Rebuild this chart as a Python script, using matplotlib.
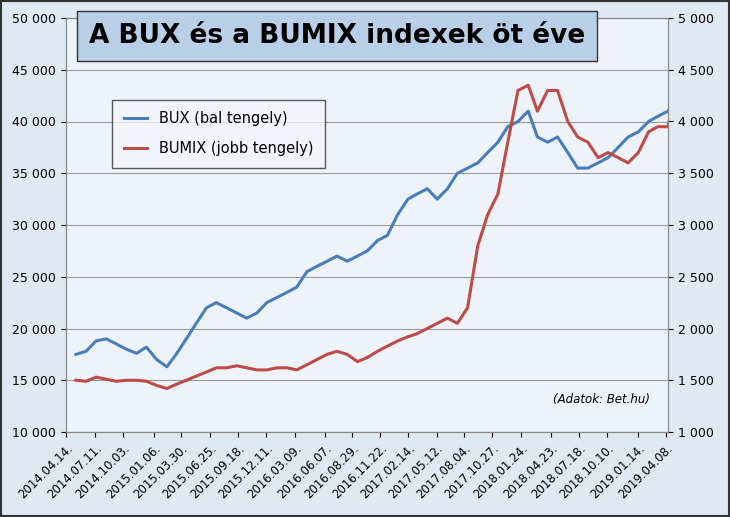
import numpy as np
import pandas as pd
import matplotlib.pyplot as plt
import matplotlib.dates as mdates

months = pd.date_range('2014-04-14', periods=61, freq='MS') + pd.Timedelta(days=13)
bux = [17500, 17800, 18800, 19000, 18500, 18000, 17600, 18200, 17000,
       16300, 17500, 19000, 20500, 22000, 22500, 22000, 21500, 21000, 21500, 22500, 23000,
       23500, 24000, 25500, 26000, 26500, 27000, 26500, 27000, 27500, 28500, 29000, 31000,
       32500, 33000, 33500, 32500, 33500, 35000, 35500, 36000, 37000, 38000, 39500, 40000,
       41000, 38500, 38000, 38500, 37000, 35500, 35500, 36000, 36500, 37500, 38500, 39000,
       40000, 40500, 41000, 42500]
bumix = [1500, 1490, 1530, 1510, 1490, 1500, 1500, 1490, 1450,
         1420, 1460, 1500, 1540, 1580, 1620, 1620, 1640, 1620, 1600, 1600, 1620,
         1620, 1600, 1650, 1700, 1750, 1780, 1750, 1680, 1720, 1780, 1830, 1880,
         1920, 1950, 2000, 2050, 2100, 2050, 2200, 2800, 3100, 3300, 3800, 4300,
         4350, 4100, 4300, 4300, 4000, 3850, 3800, 3650, 3700, 3650, 3600, 3700,
         3900, 3950, 3950, 4400]
tick_dates = ['2014.04.14.', '2014.07.11.', '2014.10.03.', '2015.01.06.', '2015.03.30.',
              '2015.06.25.', '2015.09.18.', '2015.12.11.', '2016.03.09.', '2016.06.07.',
              '2016.08.29.', '2016.11.22.', '2017.02.14.', '2017.05.12.', '2017.08.04.',
              '2017.10.27.', '2018.01.24.', '2018.04.23.', '2018.07.18.', '2018.10.10.',
              '2019.01.14.', '2019.04.08.']

fig = plt.figure(figsize=(7.3, 5.17), dpi=100, facecolor='#dfe8f3')
fig.patches.append(plt.Rectangle((0.002, 0.002), 0.996, 0.996, transform=fig.transFigure,
                                 fill=False, edgecolor='#333333', linewidth=1.5))
ax = fig.add_axes([66/730, 85/517, 602/730, 414/517])
ax.set_facecolor('#eef3f9')
ax2 = ax.twinx()

ax.plot(months, bux, color='#4a7ebb', linewidth=2.2, label='BUX (bal tengely)')
ax2.plot(months, bumix, color='#be4b48', linewidth=2.2)
ax.plot([], [], color='#be4b48', linewidth=2.2, label='BUMIX (jobb tengely)')

ax.set_ylim(10000, 50000)
ax2.set_ylim(1000, 5000)
ax.set_yticks(range(10000, 50001, 5000))
ax2.set_yticks(range(1000, 5001, 500))
ax.set_yticklabels([f'{v:,}'.replace(',', ' ') for v in range(10000, 50001, 5000)], fontsize=9)
ax2.set_yticklabels([f'{v:,}'.replace(',', ' ') for v in range(1000, 5001, 500)], fontsize=9)
ax.grid(axis='y', color='#9a9a9a', linewidth=0.8)

tk = pd.to_datetime(tick_dates, format='%Y.%m.%d.')
ax.set_xlim(tk[0], pd.Timestamp('2019-04-14'))
ax.set_xticks(tk)
ax.set_xticklabels(tick_dates, rotation=45, ha='right', rotation_mode='anchor', fontsize=8.5)
for a in (ax, ax2):
    for s in a.spines.values():
        s.set_color('#888888')

leg = ax.legend(loc='upper left', bbox_to_anchor=(0.065, 0.82), fontsize=10.5,
                frameon=True, fancybox=False, edgecolor='#333333', handlelength=1.6,
                borderpad=0.8, labelspacing=1.0)
leg.get_frame().set_facecolor('#f4f7fb')

fig.text(337/730, 1 - 36/517, 'A BUX és a BUMIX indexek öt éve', ha='center', va='center',
         fontsize=19, fontweight='bold',
         bbox=dict(boxstyle='square,pad=0.45', facecolor='#b9cfe8', edgecolor='#333333'))
ax.text(0.97, 0.07, '(Adatok: Bet.hu)', transform=ax.transAxes, ha='right',
        fontsize=8.5, style='italic')

fig.savefig('out.png', dpi=100, facecolor=fig.get_facecolor())
